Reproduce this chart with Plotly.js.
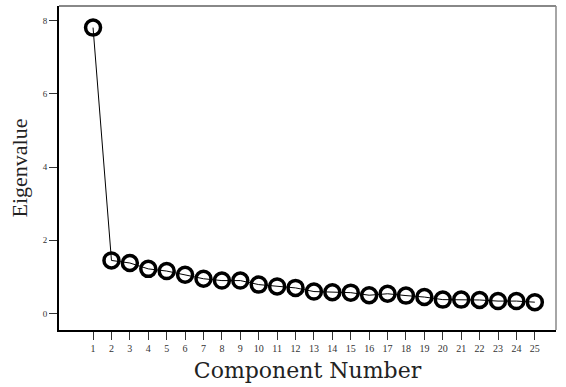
<!DOCTYPE html>
<html><head><meta charset="utf-8">
<script src="https://cdn.plot.ly/plotly-3.0.1.min.js"></script>
<style>html,body{margin:0;padding:0;background:#fff;}</style>
</head><body><div id="chart" style="width:566px;height:387px;"></div>
<script>
const components = [1,2,3,4,5,6,7,8,9,10,11,12,13,14,15,16,17,18,19,20,21,22,23,24,25];
const eigenvalues = [7.81,1.45,1.38,1.22,1.16,1.06,0.95,0.90,0.90,0.79,0.74,0.70,0.60,0.58,0.57,0.50,0.54,0.49,0.45,0.38,0.38,0.37,0.34,0.34,0.31];
const yTicks = [0,2,4,6,8];

const trace = {
  x: components, y: eigenvalues, mode: 'lines+markers', type: 'scatter',
  line: {color: '#000', width: 1},
  marker: {symbol: 'circle-open', size: 15, color: '#000', line: {width: 3.5, color: '#000'}},
  hoverinfo: 'none'
};
const layout = {
  width: 566, height: 387,
  margin: {l: 59, r: 10, t: 6, b: 57},
  paper_bgcolor: '#fff', plot_bgcolor: '#fff',
  showlegend: false,
  font: {family: '"Liberation Serif", "DejaVu Serif", serif', color: '#222'},
  xaxis: {
    range: [-0.85, 26.15], tickvals: components, ticktext: components.map(String),
    ticks: 'outside', ticklen: 8, tickwidth: 1, tickcolor: '#333',
    showgrid: false, zeroline: false, showline: true, linecolor: '#000', linewidth: 2,
    tickfont: {size: 10, color: '#333'},
    title: {text: 'Component Number', font: {family: '"DejaVu Serif", serif', size: 22, color: '#222'}, standoff: 10}
  },
  yaxis: {
    range: [-0.45, 8.4], tickvals: yTicks, ticktext: yTicks.map(String),
    ticks: 'outside', ticklen: 8, tickwidth: 1, tickcolor: '#333',
    showgrid: false, zeroline: false, showline: true, linecolor: '#000', linewidth: 2,
    tickfont: {size: 9, color: '#333'},
    title: {text: 'Eigenvalue', font: {size: 22, color: '#222'}, standoff: 9}
  },
  shapes: [
    {type: 'line', xref: 'paper', yref: 'paper', x0: 0, x1: 1, y0: 1, y1: 1, line: {color: '#888', width: 2}},
    {type: 'line', xref: 'paper', yref: 'paper', x0: 1, x1: 1, y0: 0, y1: 1, line: {color: '#888', width: 1.5}}
  ]
};
Plotly.newPlot('chart', [trace], layout, {displayModeBar: false, staticPlot: true});
</script></body></html>
